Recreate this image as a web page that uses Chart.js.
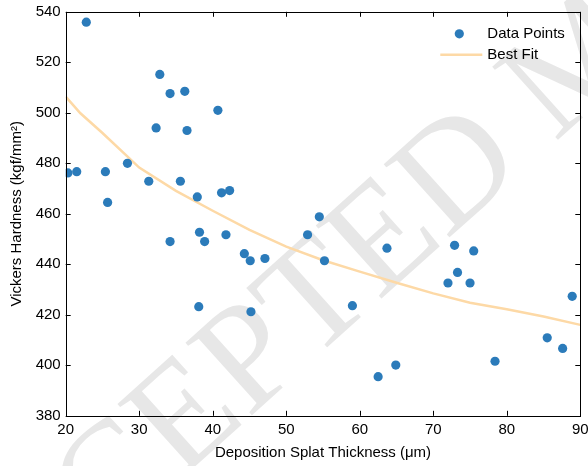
<!DOCTYPE html>
<html>
<head>
<meta charset="utf-8">
<script src="https://cdn.jsdelivr.net/npm/chart.js@4.4.1/dist/chart.umd.min.js"></script>
<style>
  html, body { margin: 0; padding: 0; background: #fff; }
  #wrap { width: 588px; height: 466px; }
</style>
</head>
<body>
<div id="wrap"><canvas id="graphCanvas" width="588" height="466"></canvas></div>
<script>
// measured points: splat thickness (um) vs Vickers hardness
var thickness = [20.3, 21.5, 22.8, 25.4, 25.7, 28.4, 31.3, 32.3, 32.8, 34.2, 34.2, 35.6, 36.2, 36.5,
  37.9, 38.2, 38.1, 38.9, 40.7, 41.2, 41.8, 42.3, 44.3, 45.1, 45.2, 47.1, 52.9, 54.5, 55.2, 59.0,
  62.5, 63.7, 64.9, 72.0, 72.9, 73.3, 75.0, 75.5, 78.4, 85.5, 87.6, 88.9];
var hardness = [476.2, 476.7, 535.9, 476.7, 464.5, 480.0, 472.9, 494.0, 515.2, 507.6, 449.0, 472.9, 508.5, 493.0,
  466.7, 452.7, 423.2, 449.0, 501.0, 468.3, 451.7, 469.2, 444.2, 441.4, 421.2, 442.3, 451.7, 458.8, 441.4, 423.6,
  395.5, 446.4, 400.1, 432.6, 447.5, 436.8, 432.6, 445.3, 401.6, 410.9, 406.7, 427.3];

// best fit curve
var fitThickness = [20, 22, 25, 30, 35, 40, 45, 50, 55, 60, 65, 70, 75, 80, 85, 90];
var fitHardness = [506.4, 499.8, 492.0, 478.3, 469.1, 461.2, 453.6, 447.0, 441.6, 437.1, 432.7, 428.5, 424.8, 422.2, 419.3, 416.0];

var xTicks = [20, 30, 40, 50, 60, 70, 80, 90];
var yTicks = [380, 400, 420, 440, 460, 480, 500, 520, 540];

var fontFam = '"Liberation Sans", Arial, sans-serif';
var pointColor = '#2B7BBA';
var fitColor = '#FDD9A6';

var points = [];
for (var i in thickness) {
  points.push({ x: thickness[i], y: hardness[i] });
}
var fit = [];
for (var j in fitThickness) {
  fit.push({ x: fitThickness[j], y: fitHardness[j] });
}

var framePlugin = {
  id: 'frame',
  beforeDraw: function (chart) {
    var c = chart.ctx;
    c.save();
    c.fillStyle = '#fff';
    c.fillRect(0, 0, chart.width, chart.height);
    // watermark
    c.translate(180, 480);
    c.rotate(-42 * Math.PI / 180);
    c.font = '150px "Liberation Serif", serif';
    c.fillStyle = '#e7e7e7';
    var pre = c.measureText('ACC').width;
    c.fillText('ACCEPTED MANUSCRIPT', -pre, 0);
    c.restore();
  },
  afterDraw: function (chart) {
    var c = chart.ctx;
    var a = chart.chartArea;
    var sx = chart.scales.x, sy = chart.scales.y;
    c.save();
    c.strokeStyle = '#000';
    c.lineWidth = 1;
    c.strokeRect(Math.round(a.left) + 0.5, Math.round(a.top) + 0.5,
      Math.round(a.right) - Math.round(a.left), Math.round(a.bottom) - Math.round(a.top));
    c.beginPath();
    xTicks.forEach(function (v) {
      var px = Math.round(sx.getPixelForValue(v)) + 0.5;
      c.moveTo(px, a.bottom); c.lineTo(px, a.bottom - 5);
      c.moveTo(px, a.top); c.lineTo(px, a.top + 5);
    });
    yTicks.forEach(function (v) {
      var py = Math.round(sy.getPixelForValue(v)) + 0.5;
      c.moveTo(a.left, py); c.lineTo(a.left + 5, py);
      c.moveTo(a.right, py); c.lineTo(a.right - 5, py);
    });
    c.stroke();

    // legend
    var lx = a.right - 121;
    var ty = a.top + 22;
    c.fillStyle = pointColor;
    c.beginPath();
    c.arc(lx, ty, 4.6, 0, Math.PI * 2);
    c.fill();
    c.strokeStyle = fitColor;
    c.lineWidth = 2.5;
    c.beginPath();
    c.moveTo(a.right - 140, ty + 21);
    c.lineTo(a.right - 98, ty + 21);
    c.stroke();
    c.fillStyle = '#000';
    c.font = '15px ' + fontFam;
    c.textBaseline = 'middle';
    c.textAlign = 'left';
    c.fillText('Data Points', a.right - 93, ty);
    c.fillText('Best Fit', a.right - 93, ty + 21);
    c.restore();
  }
};

var tickFont = { family: fontFam, size: 15 };

new Chart(document.getElementById('graphCanvas'), {
  type: 'scatter',
  data: {
    datasets: [
      {
        label: 'Data Points',
        data: points,
        backgroundColor: pointColor,
        borderColor: pointColor,
        pointRadius: 4.6,
        pointBorderWidth: 0,
        order: 1
      },
      {
        label: 'Best Fit',
        data: fit,
        showLine: true,
        borderColor: fitColor,
        borderWidth: 2.5,
        pointRadius: 0,
        tension: 0,
        order: 2
      }
    ]
  },
  options: {
    responsive: false,
    animation: false,
    devicePixelRatio: 1,
    layout: { padding: { left: 0, right: 7.7, top: 11.8, bottom: 0 } },
    plugins: { legend: { display: false }, tooltip: { enabled: false } },
    scales: {
      x: {
        type: 'linear', min: 20, max: 90,
        afterBuildTicks: function (s) { s.ticks = xTicks.map(function (v) { return { value: v }; }); },
        grid: { display: false, drawTicks: false },
        border: { display: false },
        ticks: { font: tickFont, color: '#000', padding: 5, maxRotation: 0, autoSkip: false },
        title: { display: true, text: 'Deposition Splat Thickness (μm)', font: tickFont, color: '#000', padding: { top: 0, bottom: 4 } },
        afterFit: function (s) { s.height = 50.2; s.paddingLeft = 0; s.paddingRight = 0; }
      },
      y: {
        type: 'linear', min: 380, max: 540,
        afterBuildTicks: function (s) { s.ticks = yTicks.map(function (v) { return { value: v }; }); },
        grid: { display: false, drawTicks: false },
        border: { display: false },
        ticks: { font: tickFont, color: '#000', padding: 5, autoSkip: false },
        title: { display: true, text: 'Vickers Hardness (kgf/mm²)', font: tickFont, color: '#000', padding: { top: 8, bottom: 0 } },
        afterFit: function (s) { s.width = 65.7; s.paddingTop = 0; s.paddingBottom = 0; }
      }
    }
  },
  plugins: [framePlugin]
});
</script>
</body>
</html>
